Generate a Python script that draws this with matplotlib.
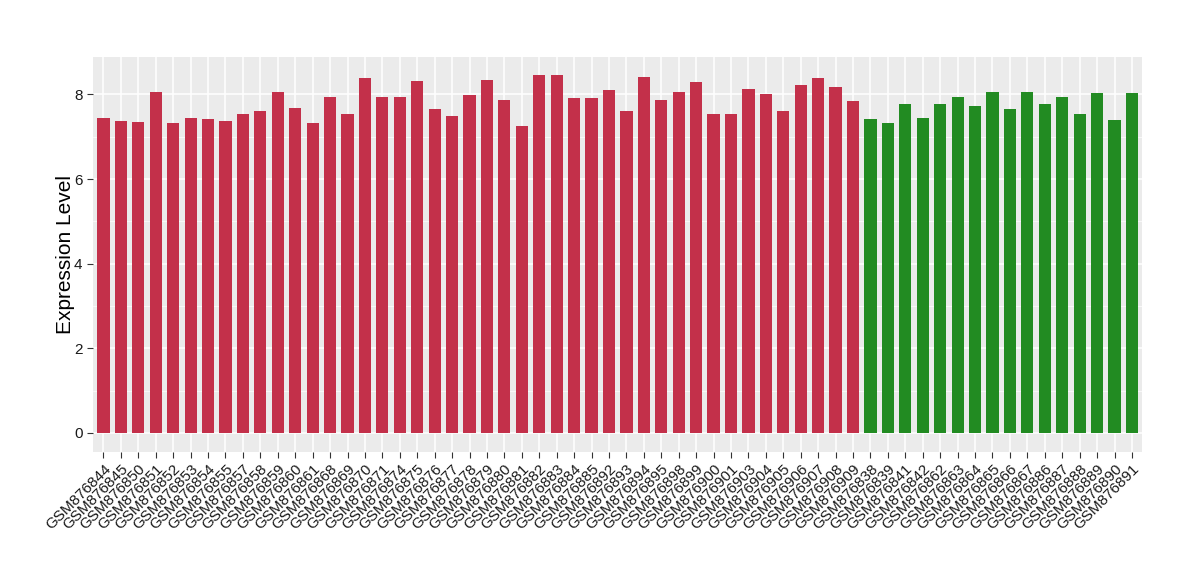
import numpy as np
import matplotlib
matplotlib.use("Agg")
import matplotlib.pyplot as plt

plt.rcParams['font.family'] = ['Liberation Sans', 'DejaVu Sans']

# samples in group 1 (red) and group 2 (green)
red_samples = ["GSM876844", "GSM876845", "GSM876850", "GSM876851", "GSM876852",
               "GSM876853", "GSM876854", "GSM876855", "GSM876857", "GSM876858",
               "GSM876859", "GSM876860", "GSM876861", "GSM876868", "GSM876869",
               "GSM876870", "GSM876871", "GSM876874", "GSM876875", "GSM876876",
               "GSM876877", "GSM876878", "GSM876879", "GSM876880", "GSM876881",
               "GSM876882", "GSM876883", "GSM876884", "GSM876885", "GSM876892",
               "GSM876893", "GSM876894", "GSM876895", "GSM876898", "GSM876899",
               "GSM876900", "GSM876901", "GSM876903", "GSM876904", "GSM876905",
               "GSM876906", "GSM876907", "GSM876908", "GSM876909"]
red_values = [7.45, 7.38, 7.35, 8.07, 7.33, 7.45, 7.42, 7.38, 7.55, 7.60,
              8.05, 7.67, 7.32, 7.95, 7.53, 8.38, 7.95, 7.93, 8.33, 7.65,
              7.48, 7.98, 8.35, 7.87, 7.25, 8.47, 8.47, 7.92, 7.92, 8.10,
              7.60, 8.42, 7.87, 8.05, 8.30, 7.55, 7.53, 8.12, 8.00, 7.60,
              8.22, 8.40, 8.17, 7.85]

green_samples = ["GSM876838", "GSM876839", "GSM876841", "GSM876842", "GSM876862",
                 "GSM876863", "GSM876864", "GSM876865", "GSM876866", "GSM876867",
                 "GSM876886", "GSM876887", "GSM876888", "GSM876889", "GSM876890",
                 "GSM876891"]
green_values = [7.43, 7.32, 7.78, 7.45, 7.78, 7.93, 7.72, 8.07, 7.65, 8.07,
                7.77, 7.93, 7.55, 8.03, 7.40, 8.03]

labels = red_samples + green_samples
values = red_values + green_values
colors = ["#C3304A"] * len(red_samples) + ["#228B22"] * len(green_samples)

fig = plt.figure(figsize=(12, 5.8), dpi=100)
ax = fig.add_axes([0.0775, 0.221, 0.8745, 0.681])
ax.set_facecolor("#EBEBEB")

x = np.arange(len(labels))
ax.bar(x, values, width=0.7, color=colors, zorder=3)

ax.set_xlim(-0.6, len(labels) - 0.4)
ax.set_ylim(-0.45, 8.89)
ax.set_yticks([0, 2, 4, 6, 8])
ax.set_yticks([1, 3, 5, 7], minor=True)
ax.set_xticks(x)
ax.set_xticklabels(labels, rotation=45, ha="right", rotation_mode="anchor",
                   fontsize=11, color="#1A1A1A")
ax.tick_params(axis="y", labelsize=11, labelcolor="#1A1A1A")
ax.tick_params(axis="both", which="major", color="#333333", length=4, width=0.8)
ax.tick_params(axis="y", which="minor", length=0)

ax.grid(which="major", color="white", linewidth=1.1, zorder=0)
ax.grid(which="minor", axis="y", color="white", linewidth=0.5, zorder=0)
ax.set_axisbelow(True)
for s in ax.spines.values():
    s.set_visible(False)

ax.set_ylabel("Expression Level", fontsize=15, labelpad=-1)

fig.savefig("out.png", dpi=100)
